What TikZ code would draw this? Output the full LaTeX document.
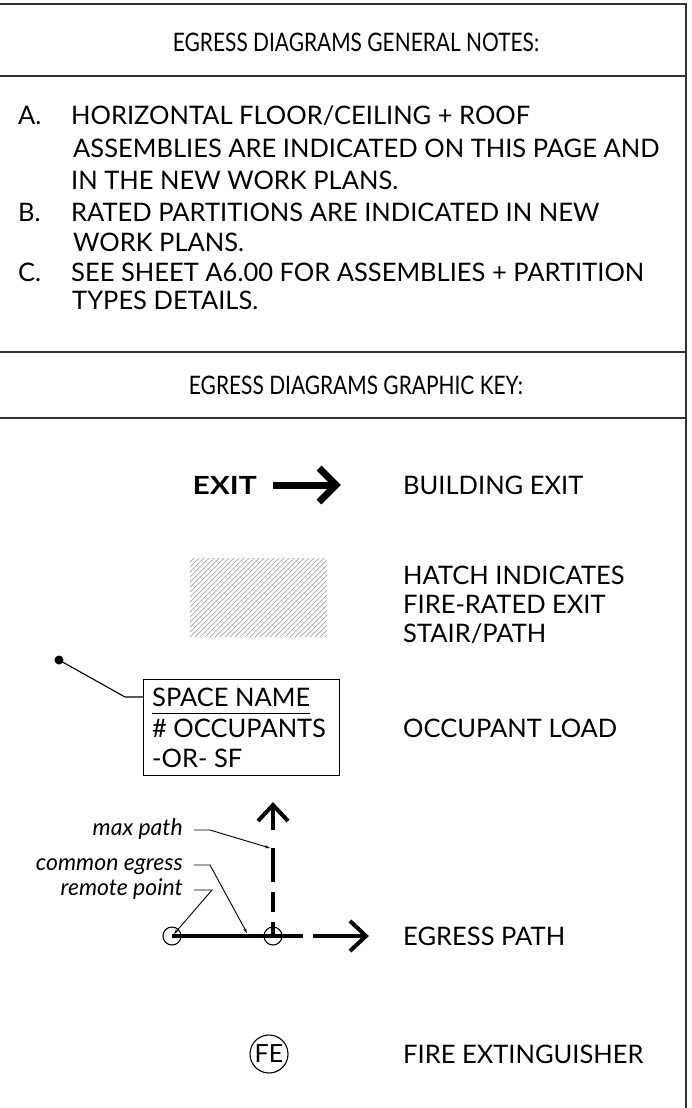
\documentclass[tikz,border=0pt]{standalone}
\usepackage{fontspec}
\setmainfont{Lato}
\newfontfamily\headfont{Lato}[FakeStretch=0.82]
\usetikzlibrary{arrows.meta,calc}
\begin{document}
\begin{tikzpicture}[x=1pt,y=-1pt,
  rule/.style={line width=2pt, draw=black!80, line join=miter},
  txt/.style={inner sep=0pt, text height=18.3pt, text depth=0pt, font=\fontsize{25.5}{30}\selectfont},
  ltxt/.style={txt, anchor=west},
  htxt/.style={txt, anchor=center, font=\fontsize{25.5}{30}\headfont},
  lbl/.style={inner sep=0pt, text height=11.6pt, text depth=0pt, anchor=east, font=\fontsize{23}{27}\selectfont\itshape},
  leader/.style={line width=0.9pt, -{Stealth[length=5pt,width=3pt]}},
  thinline/.style={line width=1.1pt},
  ring/.style={circle, draw, line width=1.1pt, inner sep=0pt},
  egress/.style={line width=4pt},
  chevron/.style={line width=4pt, line join=miter},
  hatchline/.style={line width=0.7pt, draw=black!35}]
\useasboundingbox (0,0) rectangle (691,1108);

% sheet frame and section rules
\coordinate (tl) at (0,4);
\coordinate (tr) at (686,4);
\coordinate (br) at (686,1108);
\draw[rule] (tl) -- (tr) -- (br);
\foreach \yy in {76,352,418} \draw[rule] (0,\yy) -- (686,\yy);

% general notes
\node[htxt] (title) at (356,42) {EGRESS DIAGRAMS GENERAL NOTES:};
\node[ltxt] (la) at (18,115) {A.};
\node[ltxt] (a1) at (71,115) {HORIZONTAL FLOOR/CEILING + ROOF};
\node[ltxt] (a2) at (73,148) {ASSEMBLIES ARE INDICATED ON THIS PAGE AND};
\node[ltxt] (a3) at (71,180) {IN THE NEW WORK PLANS.};
\node[ltxt] (lb) at (18,212) {B.};
\node[ltxt] (b1) at (71,212) {RATED PARTITIONS ARE INDICATED IN NEW};
\node[ltxt] (b2) at (73,242) {WORK PLANS.};
\node[ltxt] (lc) at (18,272) {C.};
\node[ltxt] (c1) at (71,272) {SEE SHEET A6.00 FOR ASSEMBLIES + PARTITION};
\node[ltxt] (c2) at (72,300) {TYPES DETAILS.};

% graphic key
\node[htxt] (keytitle) at (356,385) {EGRESS DIAGRAMS GRAPHIC KEY:};

% building exit
\node[txt, anchor=east, font=\fontsize{25}{30}\selectfont\bfseries] (exit) at (257,485) {\scalebox{1.2}[1]{EXIT}};
\coordinate (exs) at (273,485);
\coordinate (ext) at (336,485);
\draw[line width=7pt] (exs) -- (ext);
\draw[line width=7pt, line join=miter] ($(ext)+(-17,-17)$) -- (ext) -- ($(ext)+(-17,17)$);
\node[ltxt] (bexit) at (403,485) {BUILDING EXIT};

% fire-rated hatch
\begin{scope}
  \clip (190,558) rectangle (327,637);
  \foreach \i in {105,110,...,330} \draw[hatchline] (\i,637) -- (\i+80,557);
\end{scope}
\node[ltxt] (h1) at (403,575) {HATCH INDICATES};
\node[ltxt] (h2) at (403,604) {FIRE-RATED EXIT};
\node[ltxt] (h3) at (403,633) {STAIR/PATH};

% occupant load tag
\node[draw, line width=1.1pt, anchor=north west, inner sep=0pt, minimum width=196pt, minimum height=96pt] (tag) at (143,679) {};
\node[ltxt] (spn) at (152,697) {SPACE NAME};
\draw[line width=1.3pt] ([yshift=-7pt]spn.south west) -- ([yshift=-7pt]spn.south east);
\node[ltxt] (occ) at (152,728) {\# OCCUPANTS};
\node[ltxt] (sf) at (152,758) {-OR- SF};
\node[circle, fill, inner sep=0pt, minimum size=9pt] (dot) at (59,660) {};
\coordinate (knee) at (125,697);
\draw[thinline] (dot.center) -- (knee) -- (knee -| tag.west);
\node[ltxt] (occload) at (403,728) {OCCUPANT LOAD};

% egress path
\node[ring, minimum size=18pt] (rp) at (172,936) {};
\node[ring, minimum size=18pt] (cp) at (273,936) {};
\coordinate (hA) at (303,936);
\coordinate (hB) at (313,936);
\coordinate (hT) at (366,936);
\draw[egress] (rp.center) -- (hA);
\draw[egress] (hB) -- (hT);
\draw[chevron] ($(hT)+(-16,-15)$) -- (hT) -- ($(hT)+(-16,15)$);
\coordinate (vT) at (273,805);
\coordinate (v1) at (273,830);
\coordinate (v2) at (273,848);
\coordinate (v3) at (273,882);
\coordinate (v4) at (273,892);
\coordinate (v5) at (273,912);
\coordinate (v6) at (273,922);
\draw[egress] (vT) -- (v1);
\draw[egress] (v2) -- (v3);
\draw[egress] (v4) -- (v5);
\draw[egress] (v6) -- (cp.center);
\draw[chevron] ($(vT)+(-15,16)$) -- (vT) -- ($(vT)+(15,16)$);
\node[ltxt] (epath) at (403,936) {EGRESS PATH};

% egress callouts
\node[lbl] (maxp) at (183,830) {max path};
\node[lbl] (comm) at (183,865) {common egress};
\node[lbl] (remp) at (183,890) {remote point};
\coordinate (mk) at (210,830);
\coordinate (ck) at (210,865);
\coordinate (rk) at (212,890);
\coordinate (mt) at (270,848);
\coordinate (ct) at (247,933);
\coordinate (rt) at (174,934);
\draw[leader] ([xshift=11pt]maxp.east) -- (mk) -- (mt);
\draw[leader] ([xshift=11pt]comm.east) -- (ck) -- (ct);
\draw[leader] ([xshift=11pt]remp.east) -- (rk) -- (rt);

% fire extinguisher
\node[ring, minimum size=38pt, font=\fontsize{25}{30}\selectfont] (fe) at (269,1054) {FE};
\node[ltxt] (fetxt) at (403,1054) {FIRE EXTINGUISHER};
\end{tikzpicture}
\end{document}
